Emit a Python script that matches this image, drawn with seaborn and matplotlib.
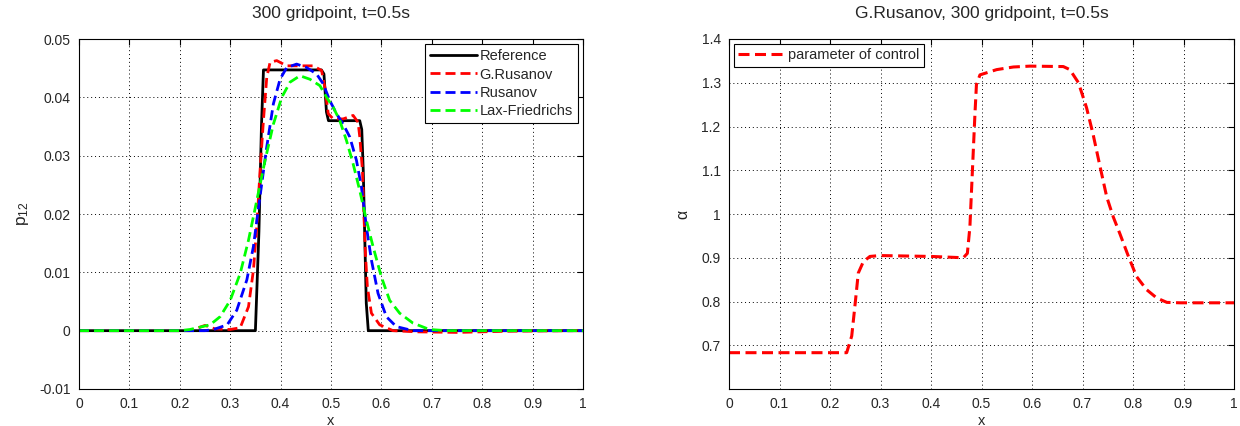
import numpy as np
import pandas as pd
import matplotlib
matplotlib.use("Agg")
import matplotlib.pyplot as plt
import seaborn as sns

# Exact solution of p12 at t=0.5s
ref_x = [0.0, 0.350, 0.357, 0.362, 0.366, 0.481, 0.486, 0.491, 0.495, 0.557,
         0.561, 0.564, 0.567, 0.570, 0.574, 1.0]
ref_y = [0.0, 0.0, 0.017, 0.035, 0.0447, 0.0447, 0.0440, 0.0375, 0.0360, 0.0360,
         0.0345, 0.0275, 0.016, 0.0047, 0.0, 0.0]

# G.Rusanov scheme, 300 gridpoints
grus_x = [0.0, 0.22, 0.24, 0.25, 0.27, 0.30, 0.3198, 0.3363, 0.3461, 0.3527, 0.3593,
          0.3659, 0.3725, 0.3791, 0.3923, 0.4121, 0.4384, 0.4648, 0.4813, 0.4879,
          0.4945, 0.5044, 0.5241, 0.5439, 0.5538, 0.5571, 0.5624, 0.5657, 0.5683,
          0.5722, 0.5802, 0.5966, 0.6230, 0.6692, 0.75, 0.85, 1.0]
grus_y = [0.0, 0.0, 0.0006, 0.0009, 0.0003, 0.0002, 0.0005, 0.0041, 0.0104, 0.0178,
          0.0275, 0.0360, 0.0434, 0.0460, 0.0463, 0.0454, 0.0454, 0.0454, 0.0446,
          0.0417, 0.0372, 0.0363, 0.0363, 0.0369, 0.0357, 0.0332, 0.0275, 0.0190,
          0.0132, 0.0075, 0.0030, 0.0010, 0.0, -0.0002, -0.0003, -0.0001, 0.0]

# Rusanov scheme
rus_x = [0.0, 0.25, 0.267, 0.294, 0.313, 0.333, 0.346, 0.359, 0.3725, 0.3857, 0.3989,
         0.4121, 0.4318, 0.4516, 0.4714, 0.4846, 0.4978, 0.511, 0.5241, 0.5373,
         0.5505, 0.5604, 0.5703, 0.5802, 0.5933, 0.6098, 0.6296, 0.6626, 1.0]
rus_y = [0.0, 0.0, 0.0002, 0.0010, 0.0035, 0.0087, 0.0144, 0.0229, 0.0315, 0.0389,
         0.0431, 0.0451, 0.0457, 0.0451, 0.0440, 0.0423, 0.0394, 0.0372, 0.0354,
         0.0332, 0.0292, 0.0246, 0.0178, 0.0121, 0.0064, 0.0024, 0.0007, 0.0, 0.0]

# Lax-Friedrichs scheme
lf_x = [0.0, 0.20, 0.22, 0.24, 0.260, 0.280, 0.300, 0.3198, 0.3363, 0.3527, 0.3692,
        0.3857, 0.4022, 0.4187, 0.4384, 0.4582, 0.478, 0.4912, 0.5044, 0.5175,
        0.5307, 0.5439, 0.5571, 0.5703, 0.5835, 0.600, 0.6164, 0.6362, 0.6626,
        0.6955, 0.73, 1.0]
lf_y = [0.0, 0.0, 0.0002, 0.0006, 0.0010, 0.0024, 0.0052, 0.0098, 0.0155, 0.0223,
        0.0292, 0.0354, 0.0400, 0.0426, 0.0437, 0.0431, 0.0420, 0.0400, 0.0383,
        0.0360, 0.0326, 0.0286, 0.0240, 0.0189, 0.0144, 0.0092, 0.0052, 0.0030,
        0.0013, 0.0002, 0.0, 0.0]

# Control parameter alpha of the G.Rusanov scheme
alpha_x = [0.0, 0.233, 0.243, 0.250, 0.256, 0.266, 0.279, 0.299, 0.40, 0.464, 0.472,
           0.477, 0.482, 0.487, 0.490, 0.497, 0.530, 0.563, 0.596, 0.662, 0.675,
           0.692, 0.708, 0.721, 0.735, 0.748, 0.761, 0.774, 0.791, 0.807, 0.827,
           0.847, 0.867, 0.893, 0.95, 1.0]
alpha_y = [0.683, 0.683, 0.721, 0.797, 0.865, 0.891, 0.903, 0.905, 0.903, 0.900, 0.910,
           0.970, 1.099, 1.228, 1.296, 1.318, 1.330, 1.336, 1.338, 1.337, 1.330,
           1.300, 1.243, 1.182, 1.107, 1.039, 0.993, 0.955, 0.903, 0.857, 0.827,
           0.808, 0.798, 0.797, 0.797, 0.797]

x_ticks = [0, 0.1, 0.2, 0.3, 0.4, 0.5, 0.6, 0.7, 0.8, 0.9, 1]
x_tick_labels = ["0", "0.1", "0.2", "0.3", "0.4", "0.5", "0.6", "0.7", "0.8", "0.9", "1"]
p_ticks = [-0.01, 0, 0.01, 0.02, 0.03, 0.04, 0.05]
p_tick_labels = ["-0.01", "0", "0.01", "0.02", "0.03", "0.04", "0.05"]
a_ticks = [0.7, 0.8, 0.9, 1.0, 1.1, 1.2, 1.3, 1.4]
a_tick_labels = ["0.7", "0.8", "0.9", "1", "1.1", "1.2", "1.3", "1.4"]

sns.set_style("white")
plt.rcParams["font.family"] = ["Liberation Sans", "DejaVu Sans"]
plt.rcParams["mathtext.default"] = "regular"

TEXT = "#262626"

fig = plt.figure(figsize=(12.4, 4.26), dpi=100)
ax1 = fig.add_axes([79 / 1240, 37 / 426, 504 / 1240, 350 / 426])
ax2 = fig.add_axes([729 / 1240, 37 / 426, 505 / 1240, 350 / 426])

dash = (3.6, 1.8)
names = ["Reference", "G.Rusanov", "Rusanov", "Lax-Friedrichs"]
series = {"Reference": (ref_x, ref_y), "G.Rusanov": (grus_x, grus_y),
          "Rusanov": (rus_x, rus_y), "Lax-Friedrichs": (lf_x, lf_y)}
df = pd.concat(
    [pd.DataFrame({"x": series[n][0], "p": series[n][1], "scheme": n}) for n in names],
    ignore_index=True,
)
palette = {"Reference": "#000000", "G.Rusanov": "#ff0000",
           "Rusanov": "#0000ff", "Lax-Friedrichs": "#00ff00"}

# drawn in legend order, later schemes on top
for name in names:
    sub = df[df["scheme"] == name]
    sns.lineplot(data=sub, x="x", y="p", ax=ax1, color=palette[name],
                 linewidth=2.0, estimator=None, sort=False, label=name)
for line in ax1.get_lines():
    if line.get_label() != "Reference":
        line.set_dashes(dash)

alpha_df = pd.DataFrame({"x": alpha_x, "alpha": alpha_y})
sns.lineplot(data=alpha_df, x="x", y="alpha", ax=ax2, color="#ff0000",
             linewidth=2.2, estimator=None, sort=False, label="parameter of control")
ax2.get_lines()[0].set_dashes(dash)


def style_axes(ax, yticks, ylabels, ylim):
    ax.set_xlim(0, 1)
    ax.set_ylim(*ylim)
    ax.set_xticks(x_ticks)
    ax.set_xticklabels(x_tick_labels)
    ax.set_yticks(yticks)
    ax.set_yticklabels(ylabels)
    ax.tick_params(direction="in", length=4, width=0.8, top=True, right=True,
                   labelsize=10, colors="#000000", labelcolor=TEXT, pad=6)
    ax.grid(True, color="#000000", linestyle=(0, (1, 3)), linewidth=0.7)
    for sp in ax.spines.values():
        sp.set_visible(True)
        sp.set_color("#000000")
        sp.set_linewidth(0.8)
    ax.set_xlabel("x", fontsize=10.5, labelpad=2, color=TEXT)


style_axes(ax1, p_ticks, p_tick_labels, (-0.01, 0.05))
style_axes(ax2, a_ticks, a_tick_labels, (0.6, 1.4))

ax1.set_ylabel("p$_{12}$", fontsize=12.5, labelpad=6, color=TEXT)
ax2.set_ylabel("α", fontsize=11.5, labelpad=8, color=TEXT)
ax1.set_title("300 gridpoint, t=0.5s", fontsize=12.5, pad=15, color=TEXT)
ax2.set_title("G.Rusanov, 300 gridpoint, t=0.5s", fontsize=12.5, pad=15, color=TEXT)

leg1 = ax1.legend(loc="upper right", fontsize=10.5, frameon=True, fancybox=False,
                  edgecolor="#000000", framealpha=1, borderaxespad=0.35,
                  handlelength=3.2, handletextpad=0.2, labelspacing=0.3,
                  borderpad=0.35)
leg1.get_frame().set_linewidth(0.8)
for t in leg1.get_texts():
    t.set_color(TEXT)

leg2 = ax2.legend(loc="upper left", fontsize=10.5, frameon=True, fancybox=False,
                  edgecolor="#000000", framealpha=1, borderaxespad=0.35,
                  handlelength=3.2, handletextpad=0.2, borderpad=0.3)
leg2.get_frame().set_linewidth(0.8)
for t in leg2.get_texts():
    t.set_color(TEXT)

fig.savefig("out.png", dpi=100)
